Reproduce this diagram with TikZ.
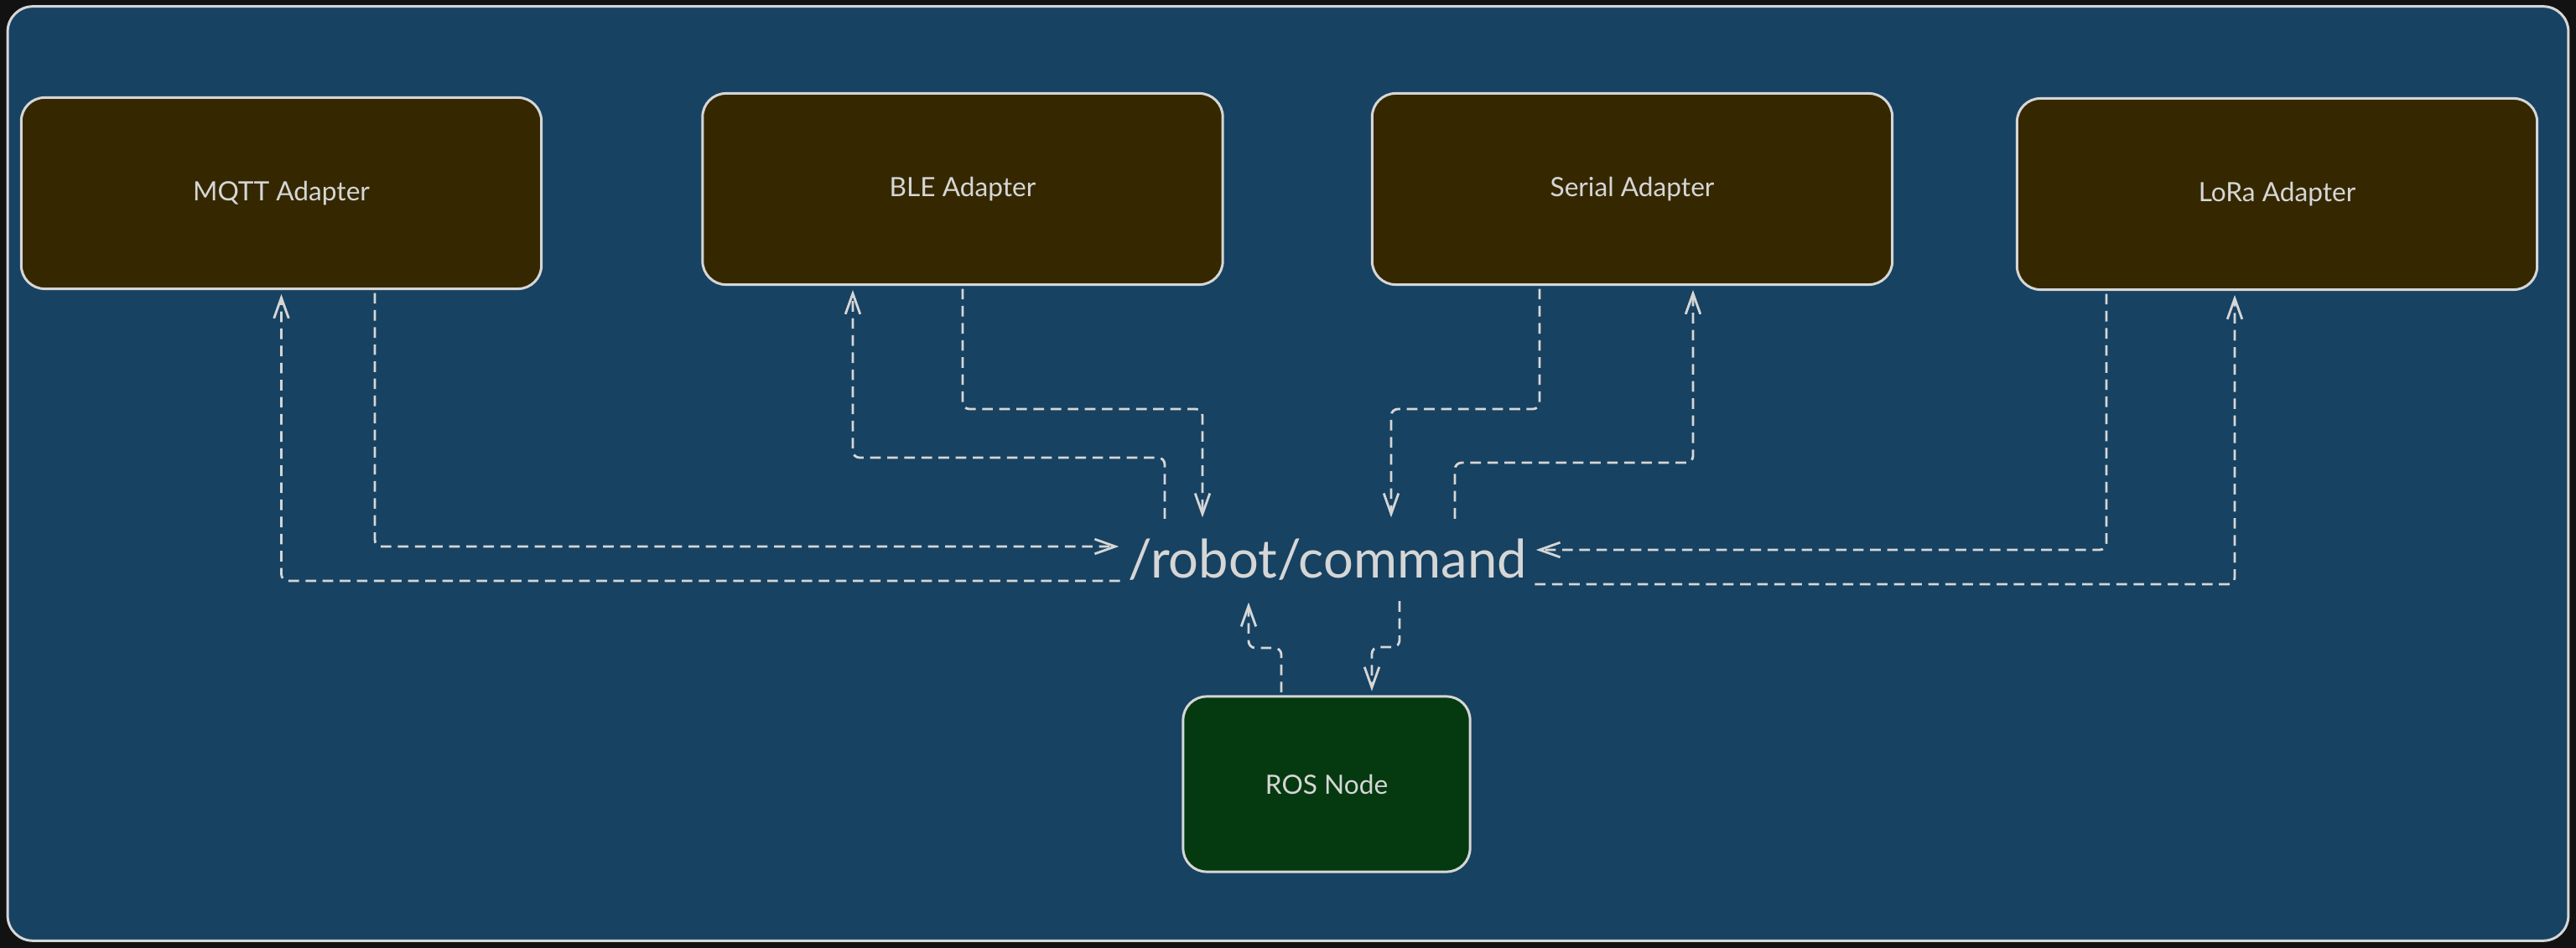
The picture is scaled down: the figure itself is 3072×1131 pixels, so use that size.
\documentclass[tikz,border=0pt]{standalone}
\usepackage{fontspec}
\setmainfont{Lato}
\usetikzlibrary{arrows.meta}
\definecolor{bgdark}{HTML}{121212}
\definecolor{panel}{HTML}{174262}
\definecolor{brownbox}{HTML}{352800}
\definecolor{greenbox}{HTML}{053A10}
\definecolor{ink}{HTML}{D6D6D6}
\begin{document}
\begin{tikzpicture}[x=0.01cm,y=-0.01cm,
  box/.style={draw=ink, line width=0.85pt, rounded corners=0.28cm, text=ink, font=\fontsize{9}{11}\selectfont, inner sep=0pt},
  adapter/.style={box, fill=brownbox, minimum width=6.2cm, minimum height=2.28cm},
  rosbox/.style={box, fill=greenbox, minimum width=3.42cm, minimum height=2.09cm},
  topic/.style={text=ink, font=\fontsize{18}{22}\selectfont, inner sep=0pt, minimum width=4.86cm, minimum height=0.9cm},
  conn/.style={draw=ink, line width=0.8pt, dash pattern=on 3.6pt off 2.2pt, rounded corners=0.08cm, shorten >=1.4pt, shorten <=1pt, -{Straight Barb[length=7pt,width=5pt]}},
]
\fill[bgdark] (0,0) rectangle (3072,1131);
\useasboundingbox (0,0) rectangle (3072,1131);
\node[draw=ink, line width=0.85pt, fill=panel, rounded corners=0.3cm, minimum width=30.52cm, minimum height=11.14cm, inner sep=0pt] (frame) at (1536,565) {};

\node[adapter] (mqtt) at (335.5,230.5) {MQTT Adapter};
\node[adapter] (ble) at (1148,225.5) {BLE Adapter};
\node[adapter] (serial) at (1946.5,225.5) {Serial Adapter};
\node[adapter] (lora) at (2715.5,231.5) {LoRa Adapter};
\node[rosbox] (ros) at (1582,935.5) {ROS Node};
\node[topic] (cmd) at (1583,668) {/robot/command};

% MQTT
\draw[conn] (447,0 |- mqtt.south) |- ([yshift=0.16cm]cmd.west);
\draw[conn] ([yshift=-0.25cm]cmd.west) -| (mqtt.south);
% BLE
\draw[conn] (ble.south) |- (1434,488) -- (1434,0 |- cmd.north);
\draw[conn] (1389,0 |- cmd.north) |- (1017,546) -- (1017,0 |- ble.south);
% Serial
\draw[conn] (1836,0 |- serial.south) |- (1659,488) -- (1659,0 |- cmd.north);
\draw[conn] (1735,0 |- cmd.north) |- (2019,552) -- (2019,0 |- serial.south);
% LoRa
\draw[conn] (2512,0 |- lora.south) |- ([yshift=0.12cm]cmd.east);
\draw[conn] ([yshift=-0.29cm]cmd.east) -| (2665,0 |- lora.south);
% ROS
\draw[conn] (1528,0 |- ros.north) |- (1489,773) -- (1489,0 |- cmd.south);
\draw[conn] (1669,0 |- cmd.south) |- (1636,772) -- (1636,0 |- ros.north);
\end{tikzpicture}
\end{document}
